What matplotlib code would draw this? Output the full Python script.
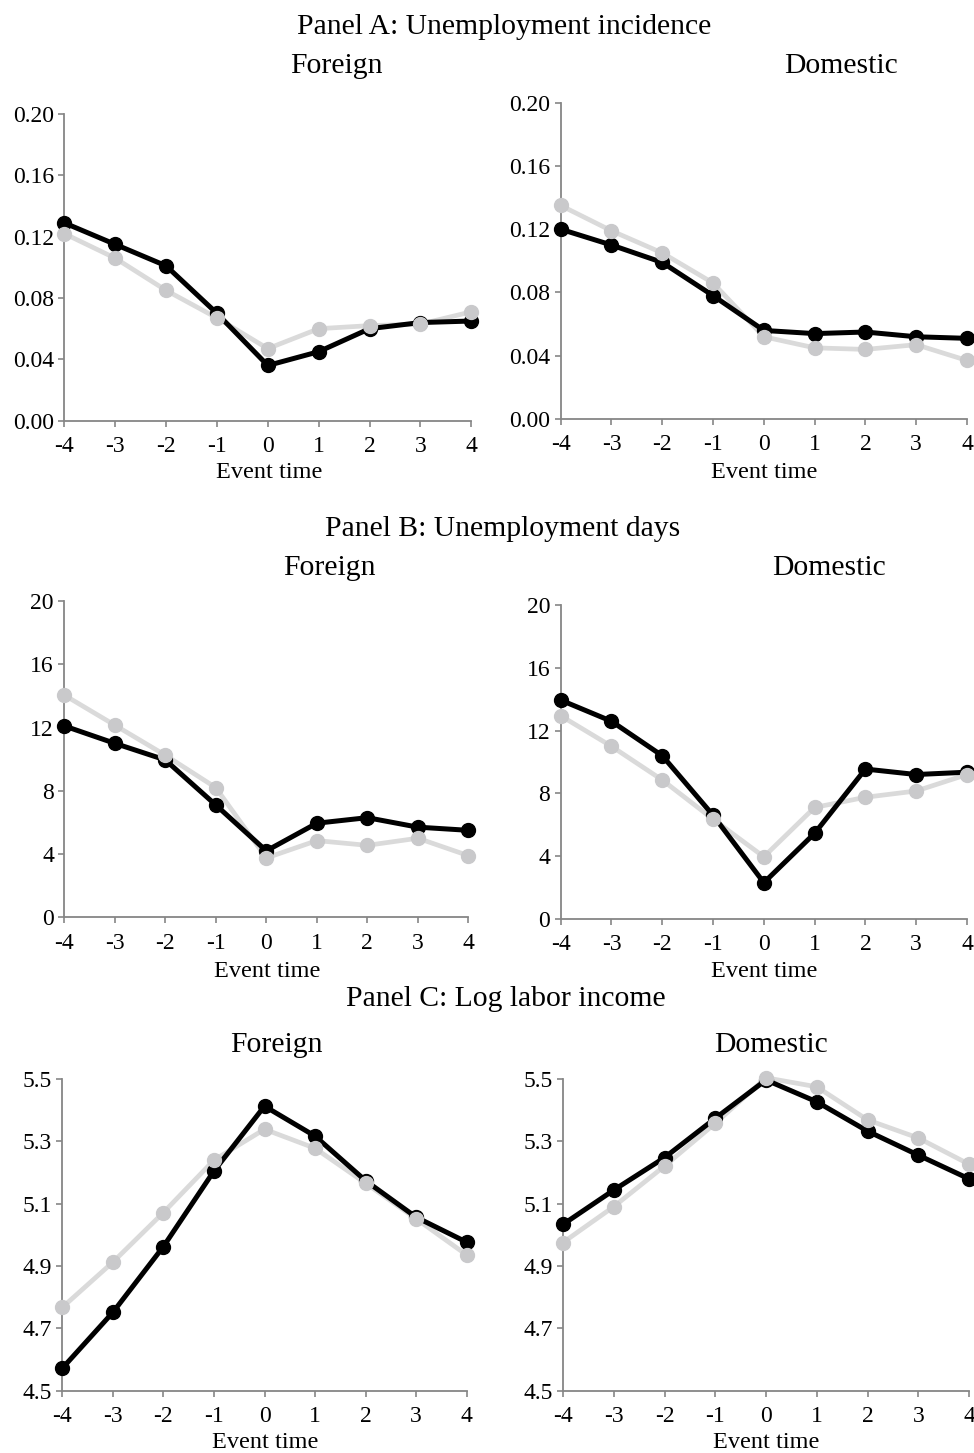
import matplotlib
matplotlib.use("Agg")
import matplotlib.pyplot as plt
import numpy as np

plt.rcParams['font.family'] = ['Liberation Serif', 'DejaVu Serif']

event_time = [-4, -3, -2, -1, 0, 1, 2, 3, 4]
x_tick_labels = ['-4', '-3', '-2', '-1', '0', '1', '2', '3', '4']

# Panel A: Unemployment incidence
a_foreign_black = [0.129, 0.115, 0.101, 0.070, 0.036, 0.045, 0.060, 0.064, 0.065]
a_foreign_gray = [0.122, 0.106, 0.085, 0.067, 0.047, 0.060, 0.062, 0.063, 0.071]
a_domestic_black = [0.120, 0.110, 0.099, 0.078, 0.056, 0.054, 0.055, 0.052, 0.051]
a_domestic_gray = [0.135, 0.119, 0.105, 0.086, 0.052, 0.045, 0.044, 0.047, 0.037]
a_yticks = [0.00, 0.04, 0.08, 0.12, 0.16, 0.20]
a_ylabels = ['0.00', '0.04', '0.08', '0.12', '0.16', '0.20']

# Panel B: Unemployment days
b_foreign_black = [12.1, 11.0, 9.95, 7.1, 4.2, 5.95, 6.3, 5.7, 5.5]
b_foreign_gray = [14.05, 12.15, 10.25, 8.2, 3.75, 4.85, 4.55, 5.0, 3.9]
b_domestic_black = [13.95, 12.6, 10.4, 6.6, 2.3, 5.45, 9.55, 9.2, 9.35]
b_domestic_gray = [12.95, 11.0, 8.85, 6.35, 3.95, 7.1, 7.75, 8.15, 9.2]
b_yticks = [0, 4, 8, 12, 16, 20]
b_ylabels = ['0', '4', '8', '12', '16', '20']

# Panel C: Log labor income
c_foreign_black = [4.572, 4.751, 4.962, 5.204, 5.412, 5.316, 5.173, 5.056, 4.976]
c_foreign_gray = [4.767, 4.912, 5.071, 5.239, 5.338, 5.277, 5.165, 5.051, 4.935]
c_domestic_black = [5.033, 5.143, 5.247, 5.373, 5.496, 5.426, 5.332, 5.255, 5.179]
c_domestic_gray = [4.975, 5.090, 5.220, 5.357, 5.503, 5.474, 5.368, 5.310, 5.226]
c_yticks = [4.5, 4.7, 4.9, 5.1, 5.3, 5.5]
c_ylabels = ['4.5', '4.7', '4.9', '5.1', '5.3', '5.5']

panel_titles = ['Panel A: Unemployment incidence', 'Panel B: Unemployment days',
                'Panel C: Log labor income']
sub_titles = ['Foreign', 'Domestic']
x_label = 'Event time'

W, H = 974, 1453
fig = plt.figure(figsize=(W / 100, H / 100), dpi=100)

def add_ax(x0, x1, ytop, ybot):
    return fig.add_axes([x0 / W, 1 - ybot / H, (x1 - x0) / W, (ybot - ytop) / H])

def ftext(x, y, s, size, ha='center'):
    fig.text(x / W, 1 - y / H, s, ha=ha, va='baseline', fontsize=size, color='black')

BLACK = '#000000'
GRAY_LINE = '#DADADA'
GRAY_MARK = '#C9C9CB'
SPINE = '#868686'

def draw(ax, black, gray, ylim, yticks, ylabels):
    ax.plot(event_time, gray, color=GRAY_LINE, lw=3.4, zorder=2, clip_on=False,
            solid_capstyle='round')
    ax.plot(event_time, black, color=BLACK, lw=3.6, marker='o', ms=10,
            zorder=3, clip_on=False)
    ax.plot(event_time, gray, color=GRAY_MARK, lw=0, marker='o', ms=10,
            zorder=4, clip_on=False)
    ax.set_xlim(-4, 4)
    ax.set_ylim(*ylim)
    ax.set_xticks(event_time)
    ax.set_xticklabels(x_tick_labels)
    ax.set_yticks(yticks)
    ax.set_yticklabels(ylabels)
    for s in ['top', 'right']:
        ax.spines[s].set_visible(False)
    for s in ['left', 'bottom']:
        ax.spines[s].set_color(SPINE)
        ax.spines[s].set_linewidth(1.3)
    ax.tick_params(axis='both', direction='out', length=4.5, width=1.2,
                   color=SPINE, labelsize=17, labelcolor='black')
    ax.tick_params(axis='x', pad=6.5)
    ax.tick_params(axis='y', pad=3)
    ax.patch.set_alpha(0)

# Panel A
axA1 = add_ax(64.3, 471.3, 114, 420.7)
draw(axA1, a_foreign_black, a_foreign_gray, (0, 0.20), a_yticks, a_ylabels)
axA2 = add_ax(560.7, 967, 102.7, 419)
draw(axA2, a_domestic_black, a_domestic_gray, (0, 0.20), a_yticks, a_ylabels)

# Panel B
axB1 = add_ax(64.3, 468.3, 601, 917.3)
draw(axB1, b_foreign_black, b_foreign_gray, (0, 20), b_yticks, b_ylabels)
axB2 = add_ax(560.7, 967, 605.3, 918.7)
draw(axB2, b_domestic_black, b_domestic_gray, (0, 20), b_yticks, b_ylabels)

# Panel C
axC1 = add_ax(62.3, 466.7, 1078.7, 1390.7)
draw(axC1, c_foreign_black, c_foreign_gray, (4.5, 5.5), c_yticks, c_ylabels)
axC2 = add_ax(563, 969, 1078.7, 1390.7)
draw(axC2, c_domestic_black, c_domestic_gray, (4.5, 5.5), c_yticks, c_ylabels)

# Titles
ftext(504, 33.5, panel_titles[0], 21.3)
ftext(336.7, 73.3, sub_titles[0], 21.3)
ftext(841, 73.3, sub_titles[1], 21.3)

ftext(503, 536, panel_titles[1], 21.3)
ftext(329, 575, sub_titles[0], 21.3)
ftext(829, 575, sub_titles[1], 21.3)

ftext(506, 1006, panel_titles[2], 21.3)
ftext(276, 1052, sub_titles[0], 21.3)
ftext(771, 1052, sub_titles[1], 21.3)

# x labels
ftext(268.8, 477.7, x_label, 17.5)
ftext(764, 477.7, x_label, 17.5)
ftext(266.7, 976.7, x_label, 17.5)
ftext(764, 976.7, x_label, 17.5)
ftext(265.5, 1448, x_label, 17.5)
ftext(766, 1448, x_label, 17.5)

fig.savefig('out.png', dpi=100)
